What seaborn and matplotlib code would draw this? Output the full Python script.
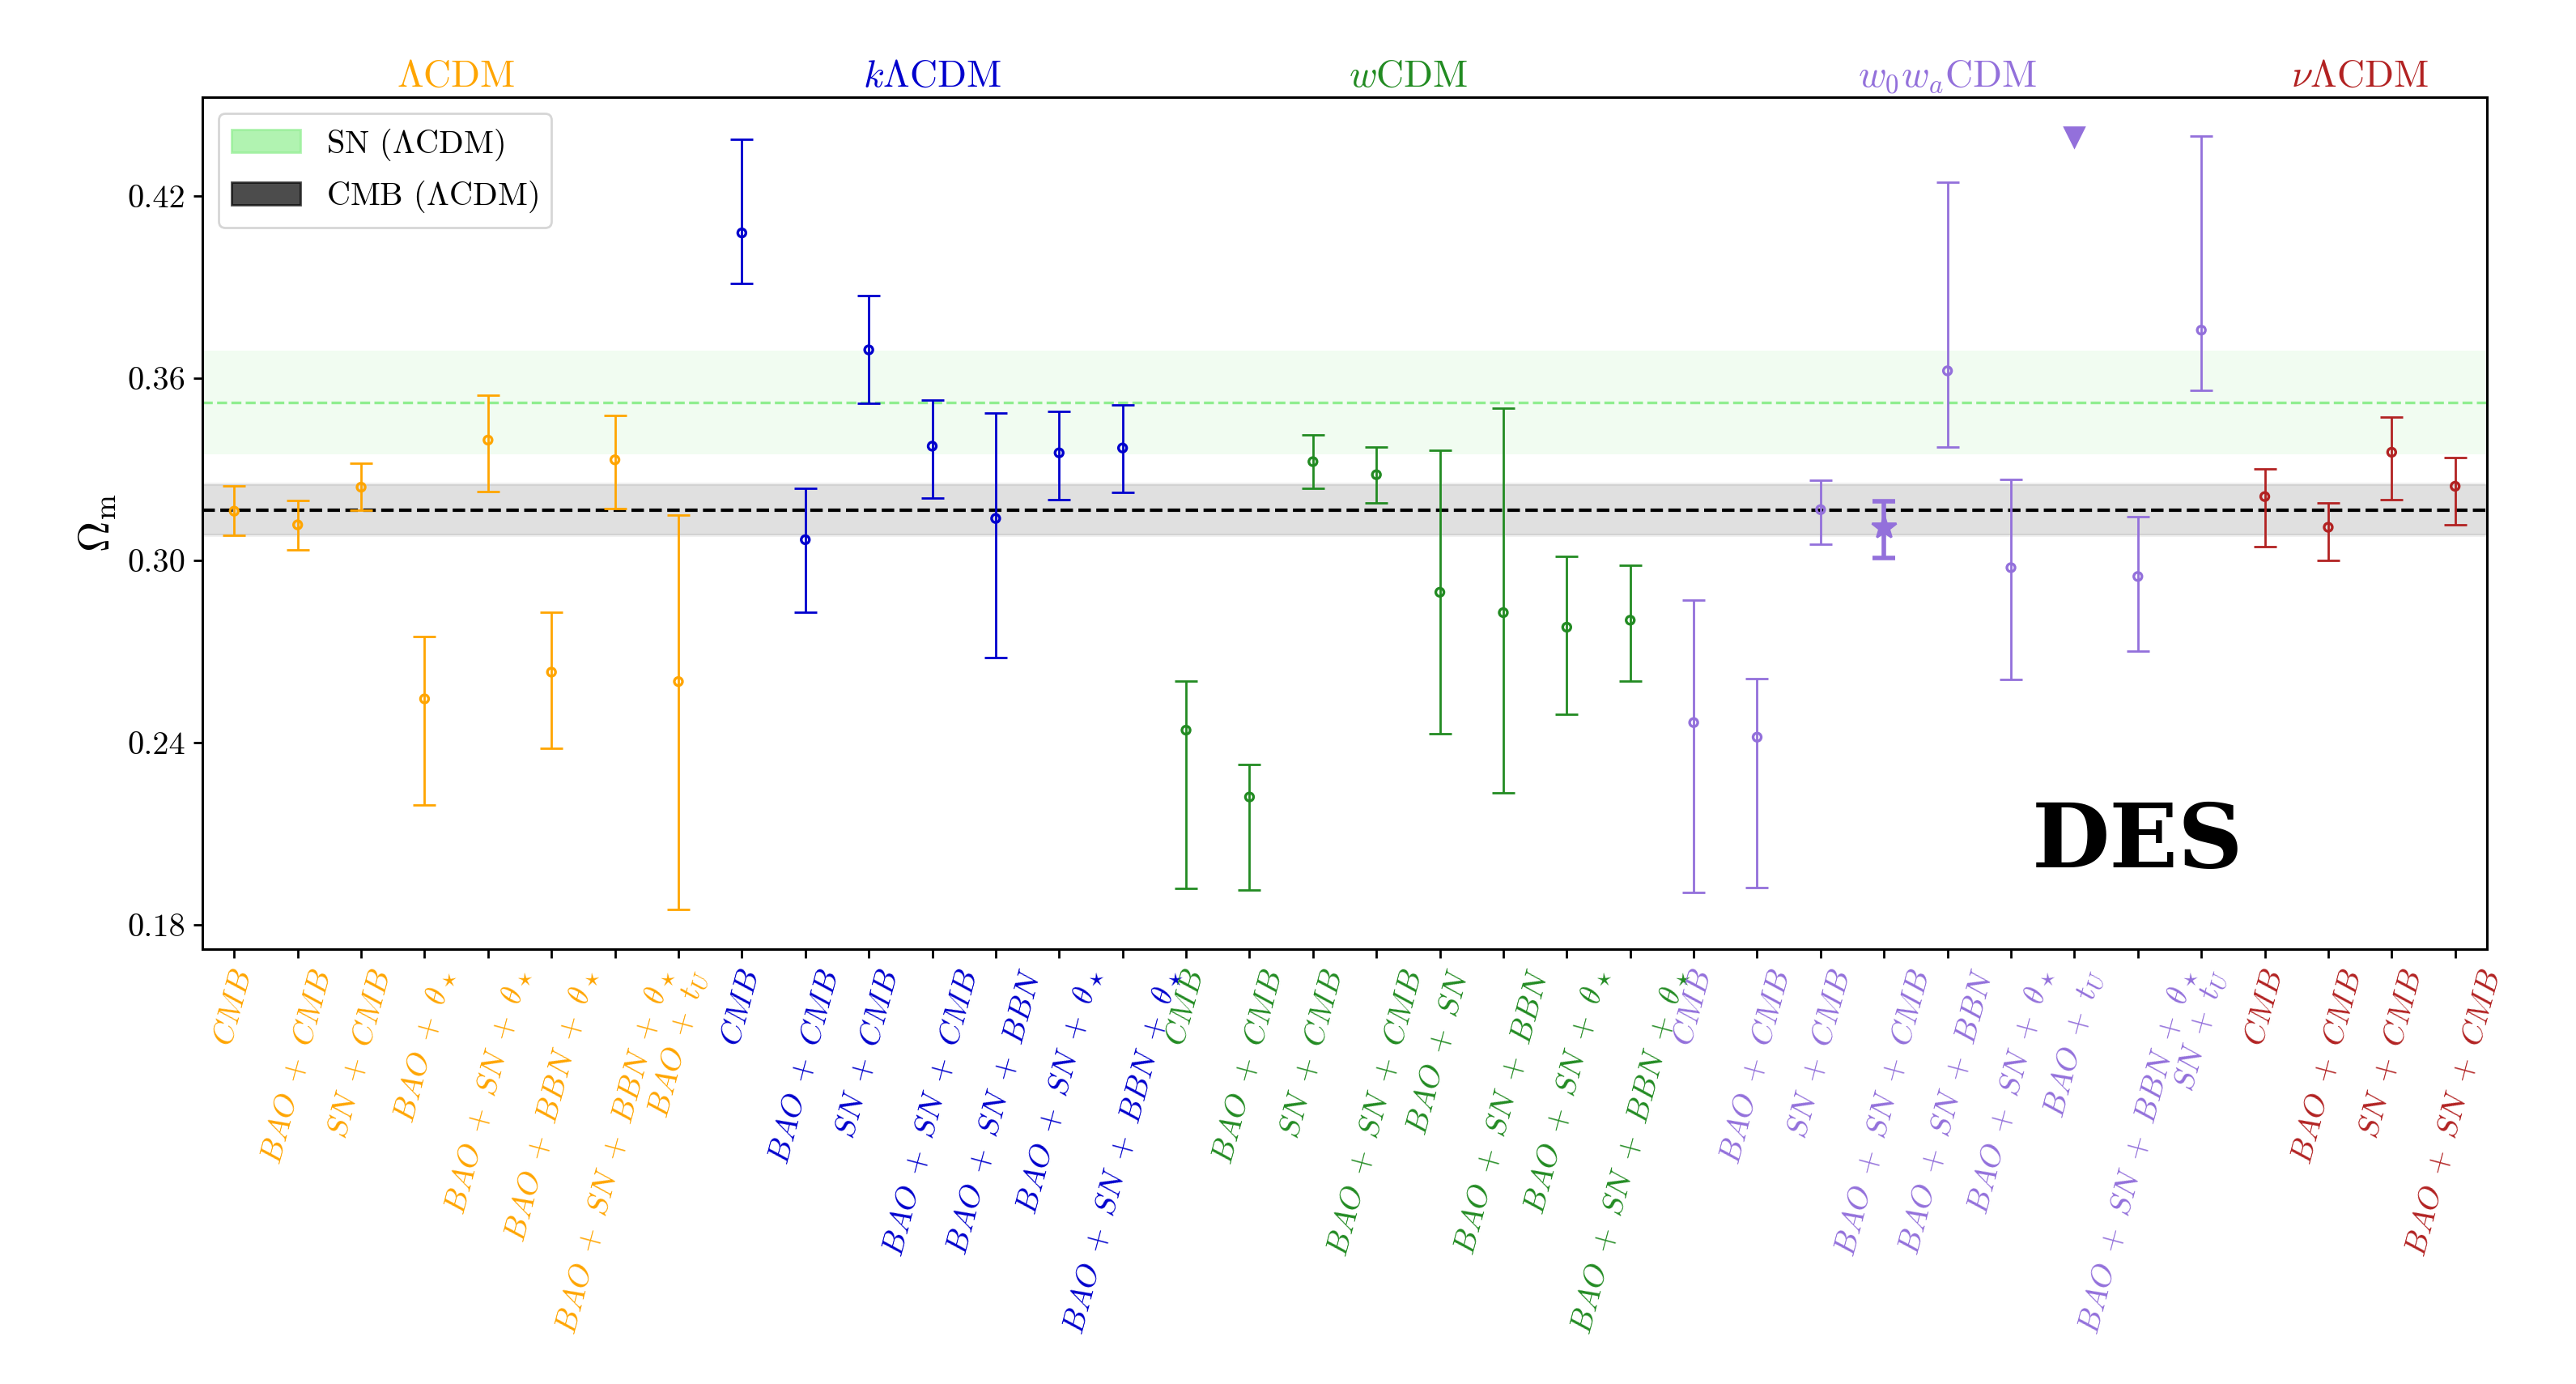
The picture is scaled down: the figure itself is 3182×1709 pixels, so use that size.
import numpy as np
import pandas as pd
import matplotlib
matplotlib.use("Agg")
import matplotlib.pyplot as plt
from matplotlib.patches import Patch
from matplotlib.ticker import FormatStrFormatter
from matplotlib.transforms import blended_transform_factory
import seaborn as sns

# ---------------------------------------------------------------- data
models = [r"$\Lambda$CDM", r"$k\Lambda$CDM", r"$w$CDM", r"$w_0w_a$CDM", r"$\nu\Lambda$CDM"]
model_colors = ["orange", "mediumblue", "forestgreen", "mediumpurple", "firebrick"]

lcdm_labels = ["CMB", "BAO + CMB", "SN + CMB", r"BAO + \theta_\star", r"BAO + SN + \theta_\star",
               r"BAO + BBN + \theta_\star", r"BAO + SN + BBN + \theta_\star", "BAO + t_U"]
lcdm_omega = [0.3162, 0.3117, 0.3241, 0.2544, 0.3396, 0.2632, 0.3331, 0.2601]
lcdm_hi = [0.3245, 0.3196, 0.3320, 0.2749, 0.3545, 0.2828, 0.3477, 0.3149]
lcdm_lo = [0.3082, 0.3035, 0.3165, 0.2194, 0.3226, 0.2380, 0.3171, 0.1850]

klcdm_labels = ["CMB", "BAO + CMB", "SN + CMB", "BAO + SN + CMB", "BAO + SN + BBN",
                r"BAO + SN + \theta_\star", r"BAO + SN + BBN + \theta_\star"]
klcdm_omega = [0.4078, 0.3068, 0.3693, 0.3376, 0.3138, 0.3354, 0.3370]
klcdm_hi = [0.4386, 0.3237, 0.3871, 0.3529, 0.3486, 0.3491, 0.3511]
klcdm_lo = [0.3911, 0.2830, 0.3516, 0.3205, 0.2679, 0.3199, 0.3223]

wcdm_labels = ["CMB", "BAO + CMB", "SN + CMB", "BAO + SN + CMB", "BAO + SN", "BAO + SN + BBN",
               r"BAO + SN + \theta_\star", r"BAO + SN + BBN + \theta_\star"]
wcdm_omega = [0.2441, 0.2221, 0.3325, 0.3282, 0.2895, 0.2828, 0.2780, 0.2803]
wcdm_hi = [0.2603, 0.2328, 0.3412, 0.3372, 0.3363, 0.3500, 0.3012, 0.2985]
wcdm_lo = [0.1919, 0.1915, 0.3237, 0.3189, 0.2429, 0.2234, 0.2492, 0.2603]

w0wa_labels = ["CMB", "BAO + CMB", "SN + CMB", "BAO + SN + CMB", "BAO + SN + BBN",
               r"BAO + SN + \theta_\star", "BAO + t_U", r"BAO + SN + BBN + \theta_\star", "SN + t_U"]
w0wa_omega = [0.2466, 0.2418, 0.3167, 0.3108, 0.3624, 0.2976, 0.4393, 0.2947, 0.3758]
w0wa_hi = [0.2870, 0.2610, 0.3264, 0.3194, 0.4244, 0.3266, np.nan, 0.3145, 0.4397]
w0wa_lo = [0.1908, 0.1922, 0.3052, 0.3009, 0.3372, 0.2609, np.nan, 0.2701, 0.3560]
w0wa_markers = ["o", "o", "o", "*", "o", "o", "v", "o", "o"]

nulcdm_labels = ["CMB", "BAO + CMB", "SN + CMB", "BAO + SN + CMB"]
nulcdm_omega = [0.3210, 0.3109, 0.3356, 0.3244]
nulcdm_hi = [0.3300, 0.3190, 0.3473, 0.3338]
nulcdm_lo = [0.3044, 0.3001, 0.3199, 0.3118]

# reference constraints (LCDM)
sn_mean, sn_sigma = 0.352, 0.017
cmb_mean, cmb_sigma = 0.3166, 0.0084

# ---------------------------------------------------------------- table
groups = [
    (lcdm_labels, lcdm_omega, lcdm_hi, lcdm_lo, ["o"] * len(lcdm_labels)),
    (klcdm_labels, klcdm_omega, klcdm_hi, klcdm_lo, ["o"] * len(klcdm_labels)),
    (wcdm_labels, wcdm_omega, wcdm_hi, wcdm_lo, ["o"] * len(wcdm_labels)),
    (w0wa_labels, w0wa_omega, w0wa_hi, w0wa_lo, w0wa_markers),
    (nulcdm_labels, nulcdm_omega, nulcdm_hi, nulcdm_lo, ["o"] * len(nulcdm_labels)),
]


def as_math(label):
    # LaTeX-like spacing around the plus signs
    return "$" + label.replace(" + ", r"\;+\;") + "$"


rows = []
for model, (labs, om, hi, lo, mk) in zip(models, groups):
    for l, o, h, b, m in zip(labs, om, hi, lo, mk):
        rows.append(dict(model=model, label=as_math(l), omega=o, hi=h, lo=b, marker=m))
df = pd.DataFrame(rows)
df["x"] = np.arange(len(df))
palette = dict(zip(models, model_colors))
df["color"] = df["model"].map(palette)

# ---------------------------------------------------------------- style
sns.set_theme(style="ticks")
plt.rcParams["font.family"] = ["cmr10"]
plt.rcParams["mathtext.fontset"] = "cm"
plt.rcParams["axes.formatter.use_mathtext"] = True
plt.rcParams["axes.unicode_minus"] = False
for key in ["text.color", "axes.labelcolor", "xtick.color", "ytick.color", "axes.edgecolor"]:
    plt.rcParams[key] = "black"

fig = plt.figure(figsize=(15.91, 8.545), dpi=200)
ax = fig.add_axes([0.0786, 0.3142, 0.8868, 0.6156])

# reference bands
ax.axhspan(sn_mean - sn_sigma, sn_mean + sn_sigma, facecolor="lightgreen", alpha=0.12,
           lw=0, zorder=0)
ax.axhspan(cmb_mean - cmb_sigma, cmb_mean + cmb_sigma, facecolor=(0, 0, 0, 0.12),
           edgecolor=(0, 0, 0, 0.06), lw=1.5, zorder=0)
ax.axhline(sn_mean, color="lightgreen", ls="--", lw=1.2, zorder=1)
ax.axhline(cmb_mean, color="black", ls="--", lw=1.5, zorder=1)

# error bars
for _, r in df[df["hi"].notna()].iterrows():
    thick = r["marker"] == "*"
    ax.errorbar(r["x"], r["omega"], yerr=[[r["omega"] - r["lo"]], [r["hi"] - r["omega"]]],
                fmt="none", ecolor=r["color"], elinewidth=2.0 if thick else 1.0,
                capsize=5, capthick=2.0 if thick else 1.0, zorder=2)

# central values
circ = df[df["marker"] == "o"]
sns.scatterplot(data=circ, x="x", y="omega", hue="model", palette=palette, marker="o",
                s=13, linewidth=1.2, legend=False, ax=ax, zorder=3)
pts = ax.collections[-1]
pts.set_edgecolors(pts.get_facecolors())
pts.set_facecolors("none")

for mk, size in [("*", 11.0), ("v", 8.5)]:
    sub = df[df["marker"] == mk]
    ax.plot(sub["x"], sub["omega"], ls="none", marker=mk, ms=size,
            color=sub["color"].iloc[0], mec=sub["color"].iloc[0], zorder=4)

# axes
ax.set_xlim(-0.5, len(df) - 0.5)
ax.set_ylim(0.172, 0.4525)
ax.set_yticks([0.18, 0.24, 0.30, 0.36, 0.42])
ax.yaxis.set_major_formatter(FormatStrFormatter("%.2f"))
ax.set_xticks(df["x"])
ax.set_xticklabels(df["label"], rotation=75, ha="center", fontsize=14)
for t, c in zip(ax.get_xticklabels(), df["color"]):
    t.set_color(c)
ax.tick_params(axis="y", labelsize=14.5)
ax.tick_params(axis="both", length=4, width=1.0, color="black")
ax.set_xlabel("")
ax.set_ylabel(r"$\Omega_{\rm m}$", fontsize=19)
for s in ax.spines.values():
    s.set_visible(True)
    s.set_color("black")
    s.set_linewidth(1.1)

# model titles above each block
trans = blended_transform_factory(ax.transData, ax.transAxes)
for model, color in zip(models, model_colors):
    xs = df.loc[df["model"] == model, "x"]
    ax.text(xs.mean(), 1.024, model, color=color, fontsize=17, ha="center", va="center",
            transform=trans)

ax.text(30.0, 0.207, "DES", fontsize=40, fontweight="bold", family="DejaVu Serif",
        color="black", ha="center", va="center")

handles = [Patch(facecolor="lightgreen", alpha=0.7, edgecolor="lightgreen"),
           Patch(facecolor="black", alpha=0.7, edgecolor="black")]
ax.legend(handles, [r"SN ($\Lambda$CDM)", r"CMB ($\Lambda$CDM)"], loc="upper left",
          fontsize=14.5, handlelength=2.1, frameon=True, fancybox=True)

fig.savefig("out.png", dpi=200, facecolor="white")
